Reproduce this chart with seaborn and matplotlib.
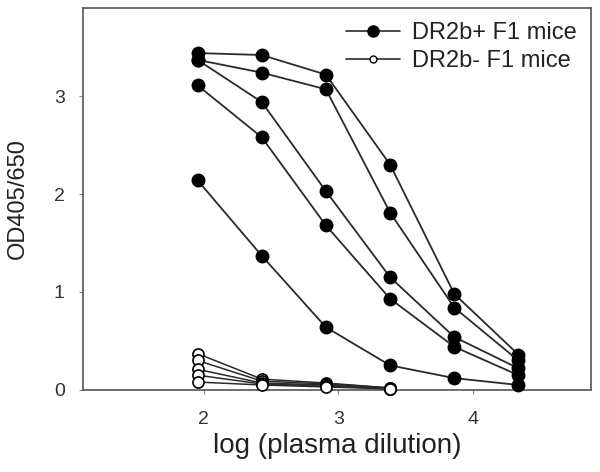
import numpy as np
import pandas as pd
import matplotlib
matplotlib.use("Agg")
import matplotlib.pyplot as plt
import seaborn as sns
from matplotlib.lines import Line2D

# log10 of plasma dilution (1:90, 3-fold series)
log_dilution = [1.954, 2.431, 2.908, 3.386, 3.863, 4.340]

# DR2b+ F1 mice (filled circles), one list per mouse
pos_mice = {
    "p1": [3.44, 3.42, 3.22, 2.30, 0.98, 0.36],
    "p2": [3.37, 3.24, 3.07, 1.81, 0.84, 0.30],
    "p3": [3.37, 2.94, 2.03, 1.15, 0.54, 0.22],
    "p4": [3.11, 2.58, 1.68, 0.93, 0.44, 0.15],
    "p5": [2.14, 1.37, 0.64, 0.25, 0.12, 0.05],
}
# DR2b- F1 mice (open circles), first four dilutions
neg_mice = {
    "n1": [0.37, 0.11, 0.07, 0.02],
    "n2": [0.30, 0.09, 0.06, 0.02],
    "n3": [0.21, 0.07, 0.05, 0.01],
    "n4": [0.15, 0.06, 0.04, 0.01],
    "n5": [0.08, 0.05, 0.03, 0.01],
}
legend_labels = ["DR2b+ F1 mice", "DR2b- F1 mice"]

rows = []
for m, vals in pos_mice.items():
    for x, y in zip(log_dilution, vals):
        rows.append({"x": x, "y": y, "mouse": m, "group": "pos"})
for m, vals in neg_mice.items():
    for x, y in zip(log_dilution, vals):
        rows.append({"x": x, "y": y, "mouse": m, "group": "neg"})
df = pd.DataFrame(rows)

sns.set_theme(style="ticks")
plt.rcParams["font.family"] = ["Liberation Sans", "DejaVu Sans"]

fig = plt.figure(figsize=(6.0, 4.72), dpi=100)
ax = fig.add_axes([0.138, 0.174, 0.847, 0.809])

line_col = "#2a2a2a"
for m in neg_mice:
    sub = df[df.mouse == m]
    sns.lineplot(data=sub, x="x", y="y", ax=ax, color=line_col, lw=1.1,
                 marker="o", markersize=8, markerfacecolor="white",
                 markeredgecolor="black", markeredgewidth=1.2,
                 estimator=None, sort=False, legend=False, clip_on=False, zorder=3)
for m in pos_mice:
    sub = df[df.mouse == m]
    sns.lineplot(data=sub, x="x", y="y", ax=ax, color=line_col, lw=1.3,
                 marker="o", markersize=9, markerfacecolor="black",
                 markeredgecolor="black", markeredgewidth=1.0,
                 estimator=None, sort=False, legend=False, clip_on=False, zorder=4)

ax.set_xlim(1.1, 4.88)
ax.set_ylim(0, 3.9)
ax.set_xticks([2, 3, 4])
ax.set_yticks([0, 1, 2, 3])
ax.tick_params(axis="both", direction="out", length=3, width=0.8,
               color="#888888", labelsize=14, labelcolor="#333333")
ax.tick_params(axis="x", pad=12)
ax.tick_params(axis="y", pad=10)
for s in ax.spines.values():
    s.set_visible(True)
    s.set_color("#555555")
    s.set_linewidth(1.2)
ax.set_xlabel("log (plasma dilution)", fontsize=20, color="#222222", labelpad=4)
ax.set_ylabel("OD405/650", fontsize=17, color="#222222", labelpad=18)

handles = [
    Line2D([0], [0], color=line_col, lw=1.2, marker="o", markersize=8,
           markerfacecolor="black", markeredgecolor="black"),
    Line2D([0], [0], color=line_col, lw=1.2, marker="o", markersize=5,
           markerfacecolor="white", markeredgecolor="black"),
]
leg = ax.legend(handles, legend_labels, loc="upper right", frameon=False,
                fontsize=17, handlelength=2.3, handletextpad=0.5,
                labelspacing=0.25, borderaxespad=0.2,
                bbox_to_anchor=(1.0, 1.0))
for t in leg.get_texts():
    t.set_color("#222222")

fig.savefig("out.png", dpi=100)
